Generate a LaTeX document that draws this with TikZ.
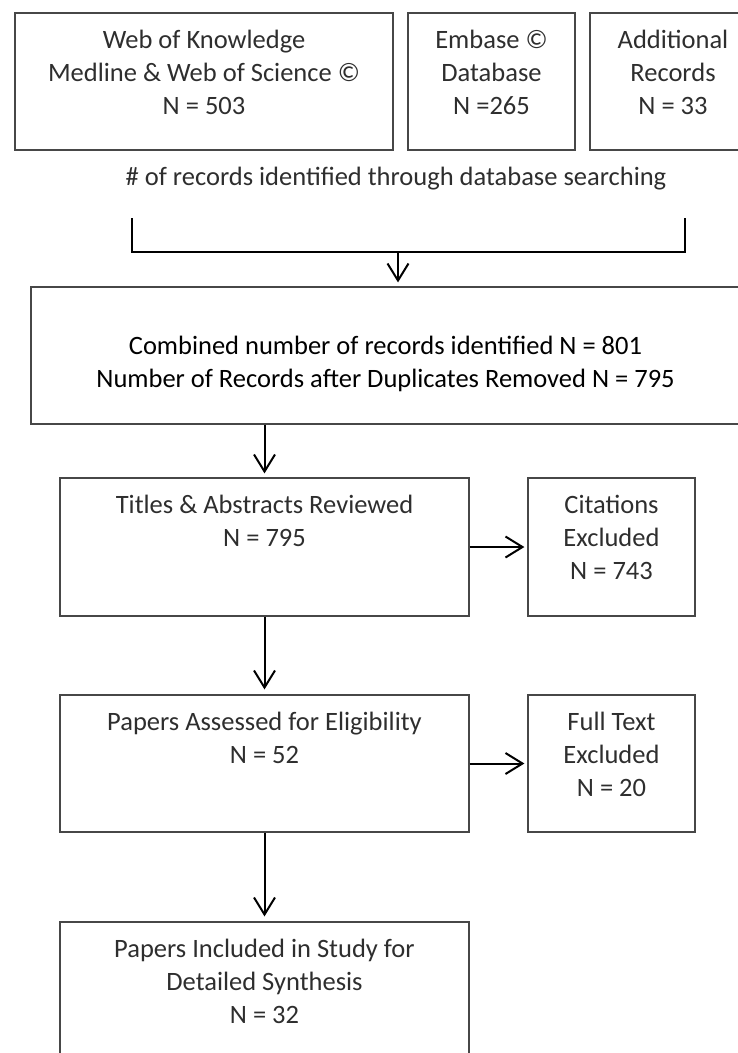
\documentclass[tikz,border=0pt]{standalone}
\usepackage{fontspec}
\setmainfont{Carlito}
\usetikzlibrary{arrows.meta,calc}
\begin{document}
\begin{tikzpicture}[x=1pt,y=-1pt,
  box/.style={draw=black!72, line width=1.2pt, rectangle, inner sep=0pt, minimum width=#1},
  box/.default=167pt,
  txt/.style={anchor=base, align=center, inner sep=0pt, text=black!82, font=\fontsize{26.5}{32.7}\selectfont},
  boldtxt/.style={txt, text=black},
  conn/.style={line width=2pt, black},
  arr/.style={conn, -{Straight Barb[length=17pt,width=21pt]}}
]
\useasboundingbox (0,0) rectangle (738,1053);
\clip (0,0) rectangle (738,1053);
% boxes
\node[box=378pt, minimum height=137pt] (wok) at (204,81.5) {};
\node[box=167pt, minimum height=137pt] (emb) at (491.5,81.5) {};
\node[box=166pt, minimum height=137pt] (add) at (673,81.5) {};
\node[box=709pt, minimum height=137pt] (comb) at (385.5,355.5) {};
\node[box=409pt, minimum height=138pt] (tit) at (264.5,547) {};
\node[box=167pt, minimum height=138pt] (cit) at (611.5,547) {};
\node[box=409pt, minimum height=137pt] (pap) at (264.5,763.5) {};
\node[box=167pt, minimum height=137pt] (ft) at (611.5,763.5) {};
\node[box=409pt, minimum height=137pt] (fin) at (264.5,990.5) {};
% texts (anchor = baseline of the last line)
\node[txt] (wokt) at (204,114) {Web of Knowledge\\Medline \& Web of Science ©\\N = 503};
\node[txt] (embt) at (491.5,114) {Embase ©\\Database\\N =265};
\node[txt] (addt) at (673,114) {Additional\\Records\\N = 33};
\node[txt] (rec) at (396,185) {\# of records identified through database searching};
\node[boldtxt] (combt) at (385.5,387) {Combined number of records identified N = 801\\Number of Records after Duplicates Removed N = 795};
\node[txt] (titt) at (264.5,546) {Titles \& Abstracts Reviewed\\N = 795};
\node[txt] (citt) at (611.5,579) {Citations\\Excluded\\N = 743};
\node[txt] (papt) at (264.5,763) {Papers Assessed for Eligibility\\N = 52};
\node[txt] (ftt) at (611.5,796) {Full Text\\Excluded\\N = 20};
\node[txt] (fint) at (264.5,1023) {Papers Included in Study for\\Detailed Synthesis\\N = 32};
% bracket
\coordinate (bl) at (132,218);
\coordinate (br) at (685,218);
\coordinate (bm) at (398,252);
\draw[conn] (bl) -- (bl |- bm) -- (br |- bm) -- (br);
\draw[arr, shorten >=4pt] (bm) -- (bm |- comb.north);
% connectors
\draw[arr, shorten >=4pt] (comb.south -| tit.north) -- (tit.north);
\draw[arr, shorten >=3pt] (tit.east) -- (cit.west);
\draw[arr, shorten >=5pt] (tit.south) -- (pap.north);
\draw[arr, shorten >=3pt] (pap.east) -- (ft.west);
\draw[arr, shorten >=5pt] (pap.south) -- (fin.north);
\end{tikzpicture}
\end{document}
